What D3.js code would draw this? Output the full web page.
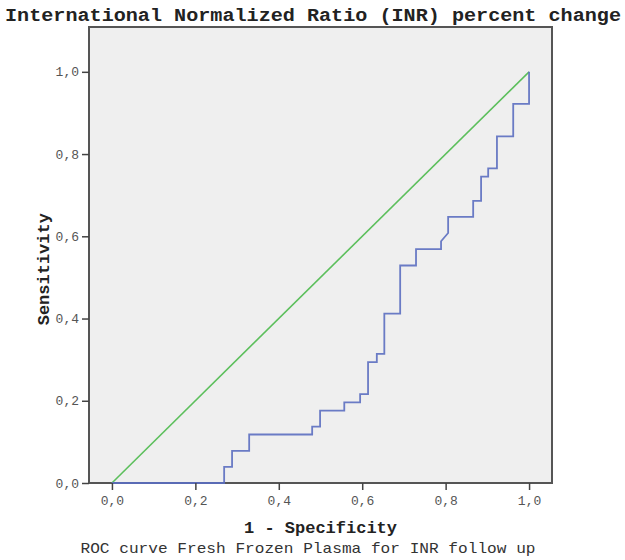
<!DOCTYPE html>
<html>
<head>
<meta charset="utf-8">
<script src="https://cdn.jsdelivr.net/npm/d3@7"></script>
<style>
  body { margin: 0; background: #fff; }
  svg text { font-family: "Liberation Mono", "DejaVu Sans Mono", monospace; }
</style>
</head>
<body>
<div id="root"></div>
<script>
// ROC curve points (1 - specificity, sensitivity)
const fpr = [0, 0.269, 0.269, 0.288, 0.288, 0.329, 0.329, 0.480, 0.480, 0.499, 0.499,
  0.557, 0.557, 0.595, 0.595, 0.614, 0.614, 0.635, 0.635, 0.653, 0.653, 0.691, 0.691,
  0.729, 0.729, 0.789, 0.789, 0.806, 0.806, 0.866, 0.866, 0.885, 0.885, 0.902, 0.902,
  0.923, 0.923, 0.962, 0.962, 1.0, 1.0]
const tpr = [0, 0, 0.039, 0.039, 0.078, 0.078, 0.118, 0.118, 0.137, 0.137, 0.176,
  0.176, 0.196, 0.196, 0.216, 0.216, 0.294, 0.294, 0.314, 0.314, 0.412, 0.412, 0.529,
  0.529, 0.569, 0.569, 0.588, 0.608, 0.647, 0.647, 0.686, 0.686, 0.745, 0.745, 0.765,
  0.765, 0.843, 0.843, 0.922, 0.922, 1.0]
// reference diagonal
const refX = [0, 1]
const refY = [0, 1]
const tickValues = [0, 0.2, 0.4, 0.6, 0.8, 1.0]
const tickLabels = ["0,0", "0,2", "0,4", "0,6", "0,8", "1,0"]

const title = "International Normalized Ratio (INR) percent change"
const xLabel = "1 - Specificity"
const yLabel = "Sensitivity"
const caption = "ROC curve Fresh Frozen Plasma for INR follow up"

const W = 625, H = 560
const margin = { left: 89, top: 27, right: 73, bottom: 77 }
const w = W - margin.left - margin.right
const h = H - margin.top - margin.bottom

const svg = d3.select("#root").append("svg").attr("width", W).attr("height", H)

const x = d3.scaleLinear().domain([-0.055, 1.055]).range([0, w])
const y = d3.scaleLinear().domain([0, 1.109]).range([h, 0])

const g = svg.append("g").attr("transform", `translate(${margin.left},${margin.top})`)

// plot background
g.append("rect").attr("width", w).attr("height", h).attr("fill", "#efefef")

// frame
g.append("rect").attr("width", w).attr("height", h)
  .attr("fill", "none").attr("stroke", "#555").attr("stroke-width", 2)

const line = d3.line().x(d => x(d[0])).y(d => y(d[1]))

g.append("path")
  .datum(refX.map((v, i) => [v, refY[i]]))
  .attr("d", line).attr("fill", "none")
  .attr("stroke", "#5cbf5c").attr("stroke-width", 1.6)

g.append("path")
  .datum(fpr.map((v, i) => [v, tpr[i]]))
  .attr("d", line).attr("fill", "none")
  .attr("stroke", "#5b6ec0").attr("stroke-width", 1.8)
  .attr("stroke-opacity", 0.9)

const fmt = d => tickLabels[tickValues.indexOf(d)]

const xAxis = g.append("g").attr("transform", `translate(0,${h})`)
  .call(d3.axisBottom(x).tickValues(tickValues).tickFormat(fmt).tickSize(7).tickPadding(6))
const yAxis = g.append("g")
  .call(d3.axisLeft(y).tickValues(tickValues).tickFormat(fmt).tickSize(7).tickPadding(3))

;[xAxis, yAxis].forEach(a => {
  a.select(".domain").remove()
  a.selectAll(".tick line").attr("stroke", "#444").attr("stroke-width", 1.5)
  a.selectAll(".tick text")
    .attr("fill", "#555").attr("font-size", 13)
    .attr("font-family", "Liberation Mono, monospace")
})

svg.append("text")
  .attr("x", 313).attr("y", 21)
  .attr("text-anchor", "middle")
  .attr("font-size", 19).attr("font-weight", "bold").attr("fill", "#222")
  .attr("textLength", 616).attr("lengthAdjust", "spacingAndGlyphs")
  .text(title)

svg.append("text")
  .attr("x", margin.left + x(0.5)).attr("y", 533)
  .attr("text-anchor", "middle")
  .attr("font-size", 17).attr("font-weight", "bold").attr("fill", "#222")
  .text(xLabel)

svg.append("text")
  .attr("transform", `translate(49,${margin.top + y(0.52)}) rotate(-90)`)
  .attr("text-anchor", "middle")
  .attr("font-size", 17).attr("font-weight", "bold").attr("fill", "#222")
  .text(yLabel)

svg.append("text")
  .attr("x", 308).attr("y", 553)
  .attr("text-anchor", "middle")
  .attr("font-size", 15).attr("fill", "#333")
  .attr("textLength", 455).attr("lengthAdjust", "spacingAndGlyphs")
  .text(caption)
</script>
</body>
</html>
